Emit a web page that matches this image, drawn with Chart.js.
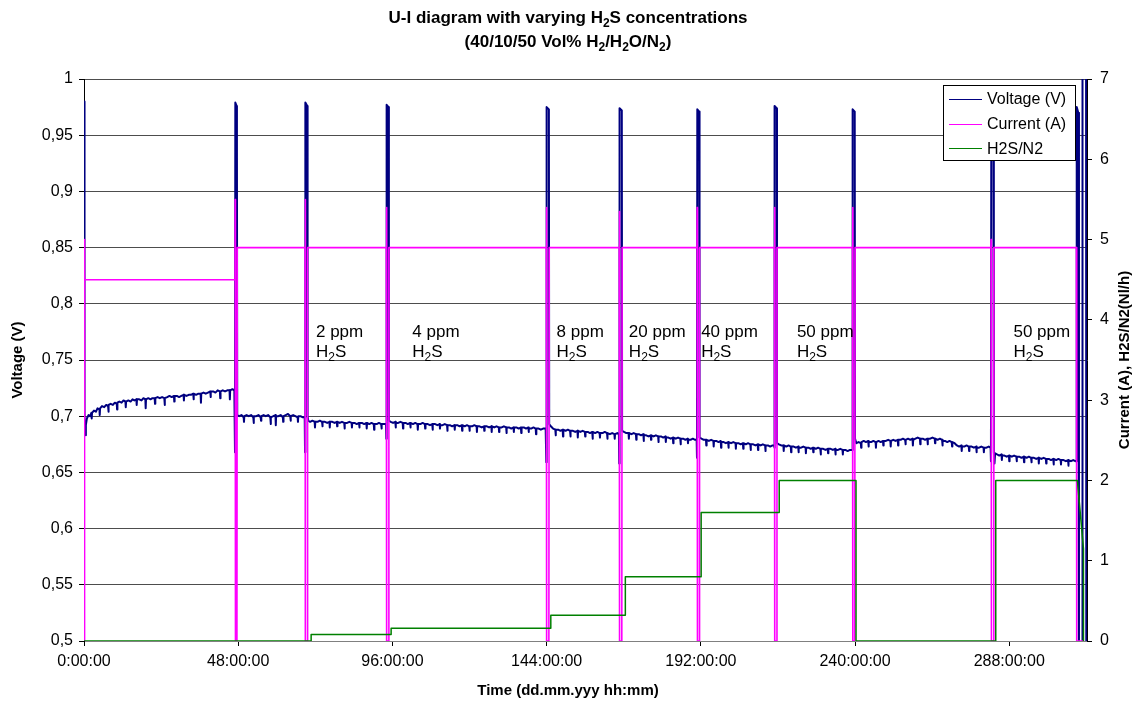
<!DOCTYPE html>
<html>
<head>
<meta charset="utf-8">
<title>U-I diagram</title>
<script src="https://cdn.jsdelivr.net/npm/chart.js@4.4.1/dist/chart.umd.min.js"></script>
<style>
  body { margin: 0; background: #fff; }
  #chart { display: block; }
</style>
</head>
<body>
<canvas id="chart" width="1135" height="706"></canvas>
<script>
// time axis, hours since start
var timeTicks = [0, 48, 96, 144, 192, 240, 288];
var timeLabels = ['0:00:00', '48:00:00', '96:00:00', '144:00:00', '192:00:00', '240:00:00', '288:00:00'];

// cell voltage [hours, V]
var voltage = [
  [0, 0.98], [0.05, 0.91], [0.15, 0.72], [0.3, 0.695], [0.5, 0.69], [0.55, 0.683], [0.6, 0.692], [0.9, 0.698],
  [1.4, 0.701], [1.9, 0.7], [2.3, 0.703], [2.4, 0.698], [2.5, 0.703], [3.1, 0.705], [3.7, 0.704], [4.2, 0.707],
  [4.8, 0.706], [4.9, 0.701], [5, 0.707], [5.6, 0.709], [6.3, 0.708], [6.9, 0.71], [7.5, 0.709], [7.6, 0.704],
  [7.7, 0.71], [8.3, 0.711], [9, 0.71], [9.6, 0.712], [10.2, 0.711], [10.3, 0.706], [10.4, 0.712], [11, 0.713],
  [11.7, 0.712], [12.3, 0.714], [12.9, 0.713], [13, 0.708], [13.1, 0.713], [13.8, 0.714], [14.5, 0.713],
  [15.1, 0.715], [15.7, 0.714], [16.3, 0.715], [16.4, 0.71], [16.5, 0.715], [17.2, 0.715], [17.9, 0.714],
  [18.5, 0.716], [19.1, 0.715], [19.2, 0.707], [19.3, 0.715], [20, 0.716], [20.7, 0.715], [21.3, 0.716],
  [22, 0.716], [22.1, 0.711], [22.2, 0.716], [22.9, 0.717], [23.6, 0.716], [24.3, 0.717], [25, 0.716],
  [25.1, 0.71], [25.2, 0.716], [25.9, 0.717], [26.6, 0.718], [27.3, 0.717], [28, 0.718], [28.1, 0.713],
  [28.2, 0.718], [28.9, 0.718], [29.6, 0.717], [30.3, 0.718], [31, 0.719], [31.1, 0.714], [31.2, 0.719],
  [31.9, 0.718], [32.6, 0.719], [33.3, 0.719], [34, 0.72], [34.1, 0.715], [34.2, 0.72], [34.9, 0.719],
  [35.6, 0.72], [36.3, 0.72], [36.4, 0.712], [36.5, 0.72], [37.2, 0.721], [37.9, 0.72], [38.6, 0.721],
  [39.3, 0.722], [39.4, 0.717], [39.5, 0.722], [40.2, 0.722], [40.9, 0.721], [41.6, 0.723], [42.3, 0.722],
  [42.4, 0.716], [42.5, 0.722], [43.2, 0.723], [43.9, 0.722], [44.6, 0.723], [45.3, 0.723], [45.4, 0.715],
  [45.5, 0.723], [46.2, 0.724], [46.8, 0.723],
  [47.0, 0.668], [47.1, 0.979], [47.5, 0.976], [47.6, 0.94], [47.7, 0.701],
  [48.3, 0.7], [49, 0.701], [49.7, 0.699], [49.8, 0.695], [49.9, 0.7], [50.6, 0.701], [51.3, 0.7], [52, 0.701],
  [52.7, 0.699], [52.8, 0.694], [52.9, 0.7], [53.6, 0.7], [54.3, 0.701], [55, 0.699], [55.1, 0.696], [55.2, 0.7],
  [55.9, 0.701], [56.6, 0.7], [57.3, 0.701], [58, 0.699], [58.1, 0.693], [58.2, 0.699], [58.9, 0.7], [59.6, 0.701],
  [59.7, 0.692], [59.8, 0.7], [60.5, 0.7], [61.2, 0.701], [61.9, 0.699], [62, 0.695], [62.1, 0.7], [62.8, 0.701],
  [63.5, 0.702], [64.2, 0.7], [64.3, 0.696], [64.4, 0.7], [65.1, 0.701], [65.8, 0.7], [66.5, 0.699], [66.6, 0.695],
  [66.7, 0.7], [67.4, 0.7], [68.1, 0.699], [68.7, 0.699],
  [68.8, 0.668], [68.9, 0.979], [69.5, 0.976], [69.6, 0.7], [69.8, 0.696],
  [70.4, 0.695], [71.1, 0.696], [71.8, 0.695], [71.9, 0.69], [72, 0.695], [72.7, 0.695], [73.4, 0.696],
  [74.1, 0.695], [74.2, 0.691], [74.3, 0.695], [75, 0.695], [75.7, 0.694], [76.4, 0.695], [76.5, 0.69],
  [76.6, 0.695], [77.3, 0.695], [78, 0.694], [78.7, 0.695], [78.8, 0.691], [78.9, 0.695], [79.6, 0.694],
  [80.3, 0.695], [81, 0.694], [81.1, 0.689], [81.2, 0.694], [81.9, 0.694], [82.6, 0.695], [83.3, 0.694],
  [83.4, 0.69], [83.5, 0.694], [84.2, 0.694], [84.9, 0.693], [85.6, 0.694], [85.7, 0.69], [85.8, 0.694],
  [86.5, 0.694], [87.2, 0.693], [87.9, 0.694], [88, 0.689], [88.1, 0.694], [88.8, 0.693], [89.5, 0.694],
  [90.2, 0.693], [90.3, 0.688], [90.4, 0.693], [91.1, 0.693], [91.8, 0.694], [92.5, 0.693], [92.6, 0.689],
  [92.7, 0.693], [93.4, 0.693], [94, 0.693],
  [94.1, 0.68], [94.2, 0.977], [94.8, 0.975], [94.9, 0.696],
  [95.5, 0.695], [96.2, 0.694], [96.9, 0.695], [97, 0.69], [97.1, 0.694], [97.8, 0.694], [98.5, 0.695],
  [99.2, 0.694], [99.3, 0.689], [99.4, 0.694], [100.1, 0.694], [100.8, 0.693], [101.5, 0.694], [101.6, 0.69],
  [101.7, 0.694], [102.4, 0.693], [103.1, 0.694], [103.8, 0.693], [103.9, 0.688], [104, 0.693], [104.7, 0.693],
  [105.4, 0.694], [106.1, 0.693], [106.2, 0.689], [106.3, 0.693], [107, 0.693], [107.7, 0.692], [108.4, 0.693],
  [108.5, 0.688], [108.6, 0.693], [109.3, 0.693], [110, 0.692], [110.7, 0.693], [110.8, 0.689], [110.9, 0.692],
  [111.6, 0.692], [112.3, 0.693], [113, 0.692], [113.1, 0.687], [113.2, 0.692], [113.9, 0.692], [114.6, 0.691],
  [115.3, 0.692], [115.4, 0.688], [115.5, 0.692], [116.2, 0.692], [116.9, 0.691], [117.6, 0.692], [117.7, 0.687],
  [117.8, 0.692], [118.5, 0.691], [119.2, 0.692], [119.9, 0.691], [120, 0.687], [120.1, 0.691], [120.8, 0.691],
  [121.5, 0.692], [122.2, 0.691], [122.3, 0.686], [122.4, 0.691], [123.1, 0.691], [123.8, 0.69], [124.5, 0.691],
  [124.6, 0.687], [124.7, 0.691], [125.4, 0.691], [126.1, 0.69], [126.8, 0.691], [126.9, 0.686], [127, 0.691],
  [127.7, 0.69], [128.4, 0.691], [129.1, 0.69], [129.2, 0.686], [129.3, 0.69], [130, 0.69], [130.7, 0.691],
  [131.4, 0.69], [131.5, 0.685], [131.6, 0.69], [132.3, 0.69], [133, 0.689], [133.7, 0.69], [133.8, 0.686],
  [133.9, 0.69], [134.6, 0.69], [135.3, 0.689], [136, 0.69], [136.1, 0.685], [136.2, 0.69], [136.9, 0.69],
  [137.6, 0.689], [138.3, 0.69], [138.4, 0.686], [138.5, 0.689], [139.2, 0.689], [139.9, 0.69], [140.6, 0.689],
  [140.7, 0.684], [140.8, 0.689], [141.5, 0.689], [142.2, 0.688], [142.9, 0.689], [143.7, 0.689],
  [143.9, 0.659], [144.0, 0.975], [144.7, 0.973], [144.8, 0.693],
  [145.3, 0.691], [146, 0.689], [146.7, 0.688], [146.8, 0.683], [146.9, 0.688], [147.6, 0.688], [148.3, 0.687],
  [149, 0.688], [149.1, 0.682], [149.2, 0.688], [149.9, 0.687], [150.6, 0.688], [151.3, 0.687], [151.4, 0.682],
  [151.5, 0.687], [152.2, 0.687], [152.9, 0.686], [153.6, 0.687], [153.7, 0.681], [153.8, 0.687], [154.5, 0.686],
  [155.2, 0.687], [155.9, 0.686], [156, 0.682], [156.1, 0.686], [156.8, 0.686], [157.5, 0.685], [158.2, 0.686],
  [158.3, 0.68], [158.4, 0.686], [159.1, 0.685], [159.8, 0.686], [160.5, 0.685], [160.6, 0.681], [160.7, 0.685],
  [161.4, 0.685], [162.1, 0.686], [162.8, 0.685], [162.9, 0.68], [163, 0.685], [163.7, 0.684], [164.4, 0.685],
  [165.1, 0.684], [165.2, 0.68], [165.3, 0.684], [166, 0.685], [166.5, 0.684],
  [166.6, 0.658], [166.7, 0.974], [167.4, 0.972], [167.5, 0.687],
  [168.1, 0.686], [168.8, 0.685], [169.5, 0.685], [169.6, 0.68], [169.7, 0.685], [170.4, 0.684], [171.1, 0.685],
  [171.8, 0.684], [171.9, 0.679], [172, 0.684], [172.7, 0.684], [173.4, 0.683], [174.1, 0.684], [174.2, 0.678],
  [174.3, 0.683], [175, 0.683], [175.7, 0.682], [176.4, 0.683], [176.5, 0.679], [176.6, 0.683], [177.3, 0.682],
  [178, 0.683], [178.7, 0.682], [178.8, 0.677], [178.9, 0.682], [179.6, 0.682], [180.3, 0.681], [181, 0.682],
  [181.1, 0.677], [181.2, 0.681], [181.9, 0.681], [182.6, 0.68], [183.3, 0.681], [183.4, 0.676], [183.5, 0.681],
  [184.2, 0.68], [184.9, 0.681], [185.6, 0.68], [185.7, 0.675], [185.8, 0.68], [186.5, 0.68], [187.2, 0.679],
  [187.9, 0.68], [188, 0.676], [188.1, 0.679], [188.8, 0.679], [189.5, 0.68], [190.2, 0.679], [190.7, 0.679],
  [190.8, 0.663], [190.9, 0.973], [191.5, 0.971], [191.6, 0.681],
  [192.2, 0.68], [192.9, 0.679], [193.6, 0.679], [193.7, 0.674], [193.8, 0.679], [194.5, 0.678], [195.2, 0.679],
  [195.9, 0.678], [196, 0.673], [196.1, 0.678], [196.8, 0.678], [197.5, 0.677], [198.2, 0.678], [198.3, 0.672],
  [198.4, 0.677], [199.1, 0.677], [199.8, 0.676], [200.5, 0.677], [200.6, 0.672], [200.7, 0.677], [201.4, 0.676],
  [202.1, 0.677], [202.8, 0.676], [202.9, 0.671], [203, 0.676], [203.7, 0.676], [204.4, 0.675], [205.1, 0.676],
  [205.2, 0.671], [205.3, 0.676], [206, 0.675], [206.7, 0.676], [207.4, 0.675], [207.5, 0.67], [207.6, 0.675],
  [208.3, 0.675], [209, 0.674], [209.7, 0.675], [209.8, 0.67], [209.9, 0.675], [210.6, 0.674], [211.3, 0.675],
  [212, 0.674], [212.1, 0.669], [212.2, 0.674], [212.9, 0.674], [213.6, 0.673], [214.3, 0.674], [214.8, 0.674],
  [214.9, 0.672], [215.0, 0.976], [215.6, 0.974], [215.7, 0.676],
  [216.3, 0.675], [217, 0.674], [217.7, 0.674], [217.8, 0.669], [217.9, 0.674], [218.6, 0.673], [219.3, 0.674],
  [220, 0.673], [220.1, 0.668], [220.2, 0.673], [220.9, 0.673], [221.6, 0.672], [222.3, 0.673], [222.4, 0.668],
  [222.5, 0.672], [223.2, 0.672], [223.9, 0.673], [224.6, 0.672], [224.7, 0.667], [224.8, 0.672], [225.5, 0.672],
  [226.2, 0.671], [226.9, 0.672], [227, 0.668], [227.1, 0.672], [227.8, 0.671], [228.5, 0.672], [229.2, 0.671],
  [229.3, 0.666], [229.4, 0.671], [230.1, 0.671], [230.8, 0.67], [231.5, 0.671], [231.6, 0.667], [231.7, 0.671],
  [232.4, 0.671], [233.1, 0.67], [233.8, 0.671], [233.9, 0.666], [234, 0.67], [234.7, 0.67], [235.4, 0.671],
  [236.1, 0.67], [236.2, 0.666], [236.3, 0.67], [237, 0.67], [237.7, 0.669], [238.4, 0.67], [239.1, 0.67],
  [239.2, 0.67], [239.3, 0.973], [239.9, 0.971], [240.0, 0.68],
  [240.4, 0.676], [241.1, 0.677], [241.8, 0.676], [241.9, 0.672], [242, 0.677], [242.7, 0.678], [243.4, 0.677],
  [244.1, 0.678], [244.2, 0.673], [244.3, 0.677], [245, 0.677], [245.7, 0.678], [246.4, 0.677], [246.5, 0.672],
  [246.6, 0.677], [247.3, 0.678], [248, 0.677], [248.7, 0.678], [248.8, 0.674], [248.9, 0.678], [249.6, 0.678],
  [250.3, 0.679], [251, 0.678], [251.1, 0.673], [251.2, 0.678], [251.9, 0.679], [252.6, 0.678], [253.3, 0.679],
  [253.4, 0.674], [253.5, 0.679], [254.2, 0.679], [254.9, 0.68], [255.6, 0.679], [255.7, 0.675], [255.8, 0.679],
  [256.5, 0.68], [257.2, 0.679], [257.9, 0.68], [258, 0.674], [258.1, 0.679], [258.8, 0.68], [259.5, 0.681],
  [260.2, 0.68], [260.3, 0.675], [260.4, 0.68], [261.1, 0.68], [261.8, 0.679], [262.5, 0.68], [262.6, 0.675],
  [262.7, 0.68], [263.4, 0.68], [264.1, 0.681], [264.8, 0.68], [264.9, 0.676], [265, 0.68], [265.7, 0.679],
  [266.4, 0.68], [267.1, 0.679], [267.2, 0.674], [267.3, 0.678], [268, 0.678], [268.7, 0.677], [269.4, 0.678],
  [270.1, 0.677], [270.2, 0.673], [270.3, 0.677], [271, 0.676], [271.7, 0.674], [272.4, 0.673], [273.1, 0.674],
  [273.2, 0.669], [273.3, 0.673], [274, 0.673], [274.7, 0.674], [275.4, 0.673], [275.5, 0.669], [275.6, 0.673],
  [276.3, 0.673], [277, 0.672], [277.7, 0.673], [277.8, 0.668], [277.9, 0.672], [278.6, 0.672], [279.3, 0.673],
  [280, 0.672], [280.1, 0.668], [280.2, 0.672], [280.9, 0.672], [281.6, 0.673], [282.2, 0.672],
  [282.3, 0.66], [282.4, 0.935], [283.1, 0.93], [283.2, 0.668], [283.4, 0.658], [283.6, 0.667],
  [284.2, 0.666], [284.9, 0.665], [285.6, 0.666], [285.7, 0.661], [285.8, 0.665], [286.5, 0.665], [287.2, 0.664],
  [287.9, 0.665], [288, 0.66], [288.1, 0.665], [288.8, 0.664], [289.5, 0.665], [290.2, 0.664], [290.3, 0.66],
  [290.4, 0.664], [291.1, 0.664], [291.8, 0.663], [292.5, 0.664], [292.6, 0.659], [292.7, 0.664], [293.4, 0.663],
  [294.1, 0.664], [294.8, 0.663], [294.9, 0.659], [295, 0.663], [295.7, 0.663], [296.4, 0.662], [297.1, 0.663],
  [297.2, 0.658], [297.3, 0.663], [298, 0.662], [298.7, 0.663], [299.4, 0.662], [299.5, 0.658], [299.6, 0.662],
  [300.3, 0.662], [301, 0.661], [301.7, 0.662], [301.8, 0.657], [301.9, 0.662], [302.6, 0.661], [303.3, 0.662],
  [304, 0.661], [304.1, 0.657], [304.2, 0.661], [304.9, 0.661], [305.6, 0.66], [306.3, 0.661], [306.4, 0.656],
  [306.5, 0.661], [307.2, 0.66], [307.9, 0.661], [308.6, 0.66],
  [308.9, 0.66], [309.0, 0.975], [309.5, 0.97], [309.7, 0.4], [310.7, 0.4], [310.8, 1.1], [311.9, 1.1], [312.0, 0.4]
];

// load current [hours, A]
var current = [
  [0, 0], [0.05, 5.0], [0.3, 4.5], [47.0, 4.5], [47.05, 5.5], [47.15, 0], [47.6, 0], [47.7, 4.9],
  [68.8, 4.9], [68.85, 5.5], [68.95, 0], [69.5, 0], [69.6, 4.9],
  [94.1, 4.9], [94.15, 5.4], [94.25, 0], [94.8, 0], [94.9, 4.9],
  [143.9, 4.9], [143.95, 5.4], [144.05, 0], [144.7, 0], [144.8, 4.9],
  [166.6, 4.9], [166.65, 5.35], [166.75, 0], [167.4, 0], [167.5, 4.9],
  [190.8, 4.9], [190.85, 5.4], [190.95, 0], [191.5, 0], [191.6, 4.9],
  [214.9, 4.9], [214.95, 5.4], [215.05, 0], [215.6, 0], [215.7, 4.9],
  [239.2, 4.9], [239.25, 5.4], [239.35, 0], [239.9, 0], [240.0, 4.9],
  [282.3, 4.9], [282.35, 5.0], [282.45, 0], [283.1, 0], [283.2, 4.9],
  [308.9, 4.9], [309.0, 0], [311.2, 0]
];

// H2S/N2 flow [hours, Nl/h]
var h2sFlow = [
  [0, 0], [70.7, 0], [70.7, 0.08], [95.6, 0.08], [95.6, 0.16], [145.3, 0.16], [145.3, 0.32],
  [168.5, 0.32], [168.5, 0.8], [192.1, 0.8], [192.1, 1.6], [216.4, 1.6], [216.4, 2.0], [240.3, 2.0],
  [240.3, 0], [283.8, 0], [283.8, 2.0], [309.2, 2.0], [311.1, 1.15], [311.1, 0]
];

// concentration notes, anchored at hours
var noteHours = [72.2, 102.2, 147.1, 169.6, 192.1, 221.9, 289.3];
var noteLabels = ['2 ppm', '4 ppm', '8 ppm', '20 ppm', '40 ppm', '50 ppm', '50 ppm'];

var FONT = '"Liberation Sans", Arial, sans-serif';
Chart.defaults.font.family = FONT;
Chart.defaults.color = '#000';

function toXY(arr) {
    return arr.map(function(p) { return { x: p[0], y: p[1] }; });
}

// text with subscript parts: [[text, isSub], ...]
function drawRich(ctx, parts, x, y, size, weight, align) {
    var subSize = Math.round(size * 0.68);
    var total = 0;
    parts.forEach(function(p) {
        ctx.font = weight + ' ' + (p[1] ? subSize : size) + 'px ' + FONT;
        total += ctx.measureText(p[0]).width;
    });
    var cx = align === 'center' ? x - total / 2 : x;
    ctx.textAlign = 'left';
    ctx.textBaseline = 'alphabetic';
    parts.forEach(function(p) {
        ctx.font = weight + ' ' + (p[1] ? subSize : size) + 'px ' + FONT;
        ctx.fillText(p[0], cx, p[1] ? y + size * 0.22 : y);
        cx += ctx.measureText(p[0]).width;
    });
}

var textPlugin = {
    id: 'texts',
    afterDatasetsDraw: function(chart) {
        var ctx = chart.ctx;
        var xs = chart.scales.x, ys = chart.scales.y;
        ctx.save();
        ctx.fillStyle = '#000';
        var yTop = ys.getPixelForValue(0.7705);
        for (var i = 0; i < noteHours.length; i++) {
            var px = xs.getPixelForValue(noteHours[i]);
            drawRich(ctx, [[noteLabels[i]]], px, yTop, 17, 'normal', 'left');
            drawRich(ctx, [['H'], ['2', 1], ['S']], px, yTop + 20, 17, 'normal', 'left');
        }
        ctx.restore();
    },
    afterDraw: function(chart) {
        var ctx = chart.ctx;
        var area = chart.chartArea;
        ctx.save();
        ctx.fillStyle = '#000';

        // title
        drawRich(ctx, [['U-I diagram with varying H'], ['2', 1], ['S concentrations']], 568, 23, 17, 'bold', 'center');
        drawRich(ctx, [['(40/10/50 Vol% H'], ['2', 1], ['/H'], ['2', 1], ['O/N'], ['2', 1], [')']], 568, 47, 17, 'bold', 'center');

        // axis titles
        ctx.font = 'bold 15px ' + FONT;
        ctx.textAlign = 'center';
        ctx.textBaseline = 'middle';
        ctx.fillText('Time (dd.mm.yyy hh:mm)', 568, 691);
        var midY = (area.top + area.bottom) / 2;
        ctx.save();
        ctx.translate(18, midY);
        ctx.rotate(-Math.PI / 2);
        ctx.fillText('Voltage (V)', 0, 0);
        ctx.restore();
        ctx.save();
        ctx.translate(1125, midY);
        ctx.rotate(-Math.PI / 2);
        ctx.fillText('Current (A), H2S/N2(Nl/h)', 0, 0);
        ctx.restore();

        // legend
        var lx = 943.5, ly = 85.5, lw = 132, lh = 75;
        ctx.fillStyle = '#fff';
        ctx.fillRect(lx, ly, lw, lh);
        ctx.strokeStyle = '#000';
        ctx.lineWidth = 1;
        ctx.strokeRect(lx, ly, lw, lh);
        ctx.font = '16px ' + FONT;
        ctx.textAlign = 'left';
        ctx.textBaseline = 'middle';
        chart.data.datasets.forEach(function(ds, i) {
            var rowY = 99 + i * 24.7;
            ctx.strokeStyle = ds.borderColor;
            ctx.lineWidth = 1.2;
            ctx.beginPath();
            ctx.moveTo(949, Math.round(rowY) + 0.5);
            ctx.lineTo(982, Math.round(rowY) + 0.5);
            ctx.stroke();
            ctx.fillStyle = '#000';
            ctx.fillText(ds.label, 987, rowY + 1);
        });
        ctx.restore();
    }
};

new Chart(document.getElementById('chart'), {
    type: 'line',
    data: {
        datasets: [{
            label: 'Voltage (V)',
            data: toXY(voltage),
            yAxisID: 'y',
            borderColor: '#000080',
            borderWidth: 2,
            order: 3
        }, {
            label: 'Current (A)',
            data: toXY(current),
            yAxisID: 'y2',
            borderColor: '#ff00ff',
            borderWidth: 1.6,
            order: 2
        }, {
            label: 'H2S/N2',
            data: toXY(h2sFlow),
            yAxisID: 'y2',
            borderColor: '#008000',
            borderWidth: 1.5,
            order: 1
        }]
    },
    options: {
        responsive: false,
        animation: false,
        layout: { padding: { top: 79, left: 0, right: 0, bottom: 0 } },
        elements: {
            point: { radius: 0 },
            line: { tension: 0, borderJoinStyle: 'round', fill: false }
        },
        plugins: {
            legend: { display: false },
            tooltip: { enabled: false },
            title: { display: false }
        },
        scales: {
            x: {
                type: 'linear',
                position: 'bottom',
                min: 0,
                max: 312.2,
                grid: { drawOnChartArea: false, tickLength: 5, color: '#000' },
                border: { color: '#808080', width: 1 },
                ticks: {
                    autoSkip: false,
                    maxRotation: 0,
                    padding: 6,
                    font: { size: 16 },
                    callback: function(v) {
                        var i = timeTicks.indexOf(v);
                        return i < 0 ? '' : timeLabels[i];
                    }
                },
                afterBuildTicks: function(scale) {
                    scale.ticks = timeTicks.map(function(v) { return { value: v }; });
                },
                afterFit: function(scale) { scale.height = 65; }
            },
            y: {
                position: 'left',
                min: 0.5,
                max: 1,
                grid: { color: '#4d4d4d', tickColor: '#000', tickLength: 5 },
                border: { color: '#000', width: 1 },
                ticks: {
                    stepSize: 0.05,
                    padding: 6,
                    font: { size: 16 },
                    callback: function(v) {
                        return String(Math.round(v * 100) / 100).replace('.', ',');
                    }
                },
                afterFit: function(scale) { scale.width = 84; }
            },
            y2: {
                position: 'right',
                min: 0,
                max: 7,
                grid: { drawOnChartArea: false, color: '#000', tickLength: 5 },
                border: { color: '#000', width: 1 },
                ticks: { stepSize: 1, padding: 8, font: { size: 16 } },
                afterFit: function(scale) { scale.width = 48; }
            }
        }
    },
    plugins: [textPlugin]
});
</script>
</body>
</html>
